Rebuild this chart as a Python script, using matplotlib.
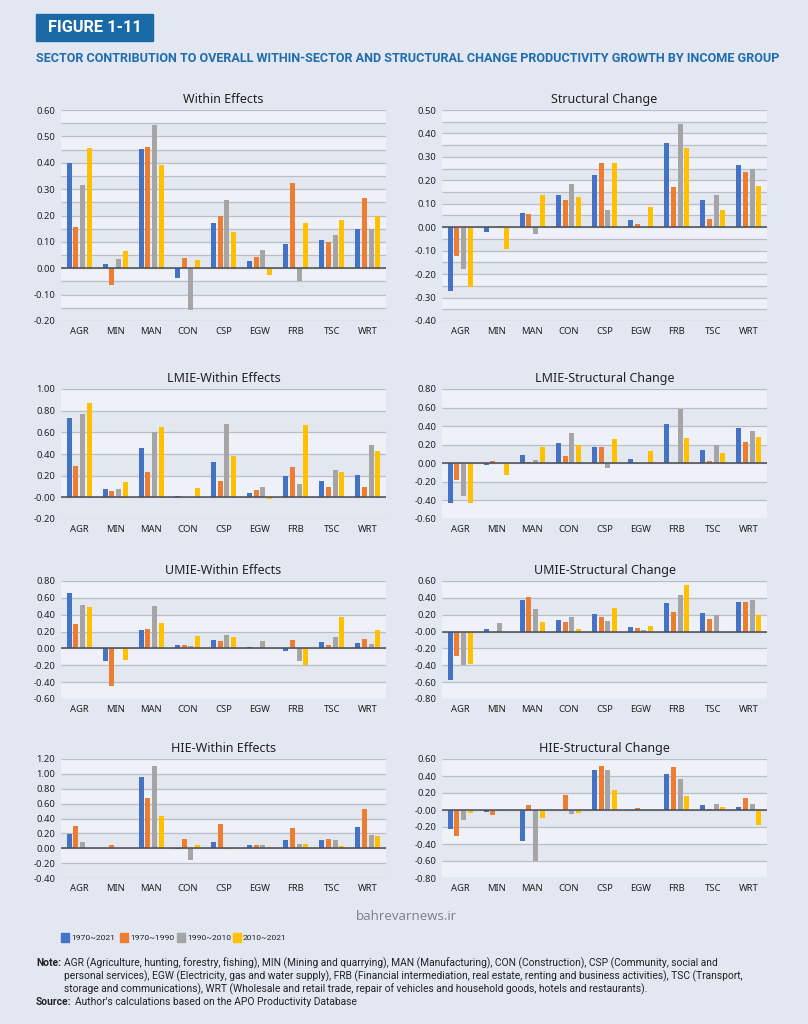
import numpy as np
import matplotlib
matplotlib.use('Agg')
import matplotlib.pyplot as plt

plt.rcParams['axes.unicode_minus'] = False
plt.rcParams['font.family'] = ['Noto Sans', 'DejaVu Sans']

sectors = ['AGR', 'MIN', 'MAN', 'CON', 'CSP', 'EGW', 'FRB', 'TSC', 'WRT']
periods = ['1970~2021', '1970~1990', '1990~2010', '2010~2021']
colors = ['#4472c4', '#ed7d31', '#a5a5a5', '#ffc000']

# one row per period: 1970~2021, 1970~1990, 1990~2010, 2010~2021
within_all = [
    [0.40, 0.018, 0.452, -0.038, 0.170, 0.028, 0.092, 0.108, 0.150],
    [0.158, -0.062, 0.458, 0.038, 0.198, 0.043, 0.325, 0.098, 0.267],
    [0.315, 0.035, 0.545, -0.160, 0.258, 0.068, -0.048, 0.126, 0.150],
    [0.455, 0.066, 0.393, 0.032, 0.137, -0.027, 0.170, 0.184, 0.200],
]
struct_all = [
    [-0.271, -0.022, 0.062, 0.138, 0.222, 0.032, 0.360, 0.115, 0.267],
    [-0.123, 0.002, 0.058, 0.115, 0.275, 0.012, 0.170, 0.035, 0.236],
    [-0.178, 0.007, -0.028, 0.183, 0.072, 0.002, 0.440, 0.137, 0.250],
    [-0.253, -0.092, 0.138, 0.127, 0.272, 0.087, 0.340, 0.072, 0.176],
]
within_lmie = [
    [0.736, 0.075, 0.455, 0.010, 0.325, 0.040, 0.197, 0.148, 0.210],
    [0.288, 0.060, 0.235, 0.000, 0.155, 0.068, 0.283, 0.100, 0.100],
    [0.767, 0.078, 0.600, 0.000, 0.680, 0.098, 0.120, 0.250, 0.480],
    [0.868, 0.145, 0.650, 0.085, 0.385, -0.012, 0.670, 0.238, 0.425],
]
struct_lmie = [
    [-0.427, -0.020, 0.085, 0.215, 0.175, 0.045, 0.420, 0.145, 0.375],
    [-0.181, 0.025, 0.010, 0.078, 0.178, 0.000, 0.000, 0.025, 0.230],
    [-0.352, 0.000, 0.035, 0.330, -0.050, 0.000, 0.585, 0.195, 0.345],
    [-0.427, -0.130, 0.175, 0.200, 0.265, 0.130, 0.270, 0.110, 0.285],
]
within_umie = [
    [0.659, -0.154, 0.215, 0.035, 0.100, 0.020, -0.030, 0.075, 0.065],
    [0.284, -0.445, 0.225, 0.035, 0.090, 0.010, 0.100, 0.040, 0.110],
    [0.517, 0.000, 0.500, 0.030, 0.155, 0.090, -0.155, 0.130, 0.050],
    [0.493, -0.140, 0.300, 0.145, 0.140, 0.005, -0.195, 0.375, 0.220],
]
struct_umie = [
    [-0.576, 0.030, 0.380, 0.135, 0.210, 0.060, 0.340, 0.215, 0.355],
    [-0.284, 0.000, 0.410, 0.110, 0.175, 0.040, 0.230, 0.155, 0.355],
    [-0.398, 0.100, 0.270, 0.170, 0.125, 0.015, 0.430, 0.195, 0.380],
    [-0.379, 0.000, 0.110, 0.030, 0.275, 0.065, 0.550, 0.000, 0.195],
]
within_hie = [
    [0.194, 0.010, 0.959, -0.010, 0.090, 0.040, 0.105, 0.105, 0.285],
    [0.293, 0.045, 0.670, 0.120, 0.330, 0.045, 0.270, 0.130, 0.530],
    [0.080, 0.000, 1.100, -0.160, -0.015, 0.040, 0.060, 0.115, 0.175],
    [0.000, 0.000, 0.430, 0.040, -0.010, 0.020, 0.055, 0.030, 0.160],
]
struct_hie = [
    [-0.220, -0.025, -0.360, 0.000, 0.475, 0.000, 0.425, 0.060, 0.040],
    [-0.305, -0.055, 0.055, 0.180, 0.520, 0.020, 0.505, 0.015, 0.140],
    [-0.120, -0.010, -0.600, -0.050, 0.465, 0.000, 0.370, 0.065, 0.065],
    [-0.030, 0.000, -0.095, -0.030, 0.230, -0.015, 0.170, 0.040, -0.180],
]

bg = '#e2e7f1'
band_light = '#eef1f8'
band_dark = '#e3e7f0'
grid_col = '#b9bdc8'


def draw_panel(ax, title, values, ymin, ymax, step, gridstep):
    x = np.arange(len(sectors))
    offsets = (np.arange(4) - 1.5) * 0.185
    for i in range(4):
        ax.bar(x + offsets[i], values[i], width=0.14, color=colors[i], zorder=3)
    levels = np.linspace(ymax, ymin, int(round((ymax - ymin) / gridstep)) + 1)
    for k in range(len(levels) - 1):
        ax.axhspan(levels[k + 1], levels[k], color=band_light if k % 2 == 0 else band_dark,
                   lw=0, zorder=0)
    ax.hlines(levels, -0.5, 8.5, color=grid_col, lw=0.9, zorder=1)
    ax.axhline(0, color='#4a4d55', lw=1.1, zorder=4)
    ax.set_xlim(-0.5, 8.5)
    ax.set_ylim(ymin, ymax)
    ticks = np.linspace(ymin, ymax, int(round((ymax - ymin) / step)) + 1)
    ax.set_yticks(ticks)
    ax.set_yticklabels(['%.2f' % t for t in ticks])
    ax.set_xticks(x)
    ax.set_xticklabels(sectors)
    ax.tick_params(length=0, labelsize=6.8, colors='#222222')
    ax.tick_params(axis='y', pad=4)
    ax.tick_params(axis='x', pad=4)
    for s in ax.spines.values():
        s.set_visible(False)
    ax.set_facecolor(band_light)
    ax.set_title(title, fontsize=9, color='#222222', pad=5)


fig = plt.figure(figsize=(8.08, 10.24), dpi=100)
fig.patch.set_facecolor(bg)
renderer = fig.canvas.get_renderer()


def fit(t, width_px):
    bb = t.get_window_extent(renderer)
    t.set_fontsize(t.get_fontsize() * width_px / bb.width)
    return t.get_fontsize()


left_x, right_x, w = 61 / 808, 442 / 808, 325 / 808
rows = [(110, 321), (389, 519), (581, 699), (759, 878)]


def pos(col_x, r):
    top, bot = rows[r]
    return [col_x, 1 - bot / 1024, w, (bot - top) / 1024]


panels = [
    (pos(left_x, 0), 'Within Effects', within_all, -0.20, 0.60, 0.10, 0.05),
    (pos(right_x, 0), 'Structural Change', struct_all, -0.40, 0.50, 0.10, 0.05),
    (pos(left_x, 1), 'LMIE-Within Effects', within_lmie, -0.20, 1.00, 0.20, 0.20),
    (pos(right_x, 1), 'LMIE-Structural Change', struct_lmie, -0.60, 0.80, 0.20, 0.20),
    (pos(left_x, 2), 'UMIE-Within Effects', within_umie, -0.60, 0.80, 0.20, 0.20),
    (pos(right_x, 2), 'UMIE-Structural Change', struct_umie, -0.80, 0.60, 0.20, 0.20),
    (pos(left_x, 3), 'HIE-Within Effects', within_hie, -0.40, 1.20, 0.20, 0.20),
    (pos(right_x, 3), 'HIE-Structural Change', struct_hie, -0.80, 0.60, 0.20, 0.20),
]
for rect, title, vals, lo, hi, st, gs in panels:
    ax = fig.add_axes(rect)
    draw_panel(ax, title, vals, lo, hi, st, gs)

# header
narrow = ['Roboto', 'DejaVu Sans']
fig.patches.append(plt.Rectangle((36 / 808, 1 - 41 / 1024), 117 / 808, 27 / 1024,
                                 transform=fig.transFigure, color='#1b6aa8'))
t = fig.text(94.5 / 808, 1 - 27.5 / 1024, 'FIGURE 1-11', fontsize=11, fontweight='bold',
             color='white', family=narrow, va='center', ha='center')
fit(t, 94)
t = fig.text(36 / 808, 1 - 58 / 1024,
             'SECTOR CONTRIBUTION TO OVERALL WITHIN-SECTOR AND STRUCTURAL CHANGE PRODUCTIVITY GROWTH BY INCOME GROUP',
             fontsize=10, fontweight='bold', color='#1f6db0', family=narrow, va='center', ha='left')
fit(t, 741)

# legend
lx = [61, 120, 177, 233]
for i in range(4):
    fig.patches.append(plt.Rectangle((lx[i] / 808, 1 - 942 / 1024), 8 / 808, 9 / 1024,
                                     transform=fig.transFigure, color=colors[i]))
    t = fig.text((lx[i] + 10) / 808, 1 - 937.5 / 1024, periods[i], fontsize=6.5, family=narrow,
                 color='#222222', va='center', ha='left')
    fit(t, 44)

fig.text(406 / 808, 1 - 916 / 1024, 'bahrevarnews.ir', fontsize=9.5, color='#7d7f86',
         family=['Open Sans', 'DejaVu Sans'], ha='center', va='center')

note_lines = [
    'AGR (Agriculture, hunting, forestry, fishing), MIN (Mining and quarrying), MAN (Manufacturing), CON (Construction), CSP (Community, social and',
    'personal services), EGW (Electricity, gas and water supply), FRB (Financial intermediation, real estate, renting and business activities), TSC (Transport,',
    'storage and communications), WRT (Wholesale and retail trade, repair of vehicles and household goods, hotels and restaurants).',
]
probe = fig.text(64 / 808, 1 - 976 / 1024, note_lines[1], fontsize=7, family=narrow,
                 color='#222222', va='center')
fs = fit(probe, 678)
probe.remove()
t = fig.text(36 / 808, 1 - 963 / 1024, 'Note:', fontsize=fs, fontweight='bold', family=narrow,
             color='#222222', va='center')
for i, line in enumerate(note_lines):
    fig.text(64 / 808, 1 - (963 + 13 * i) / 1024, line, fontsize=fs, family=narrow,
             color='#222222', va='center')
fig.text(36 / 808, 1 - 1002 / 1024, 'Source:', fontsize=fs, fontweight='bold', family=narrow,
         color='#222222', va='center')
fig.text(75 / 808, 1 - 1002 / 1024, "Author's calculations based on the APO Productivity Database",
         fontsize=fs, family=narrow, color='#222222', va='center')

fig.savefig('out.png', dpi=100, facecolor=bg)
